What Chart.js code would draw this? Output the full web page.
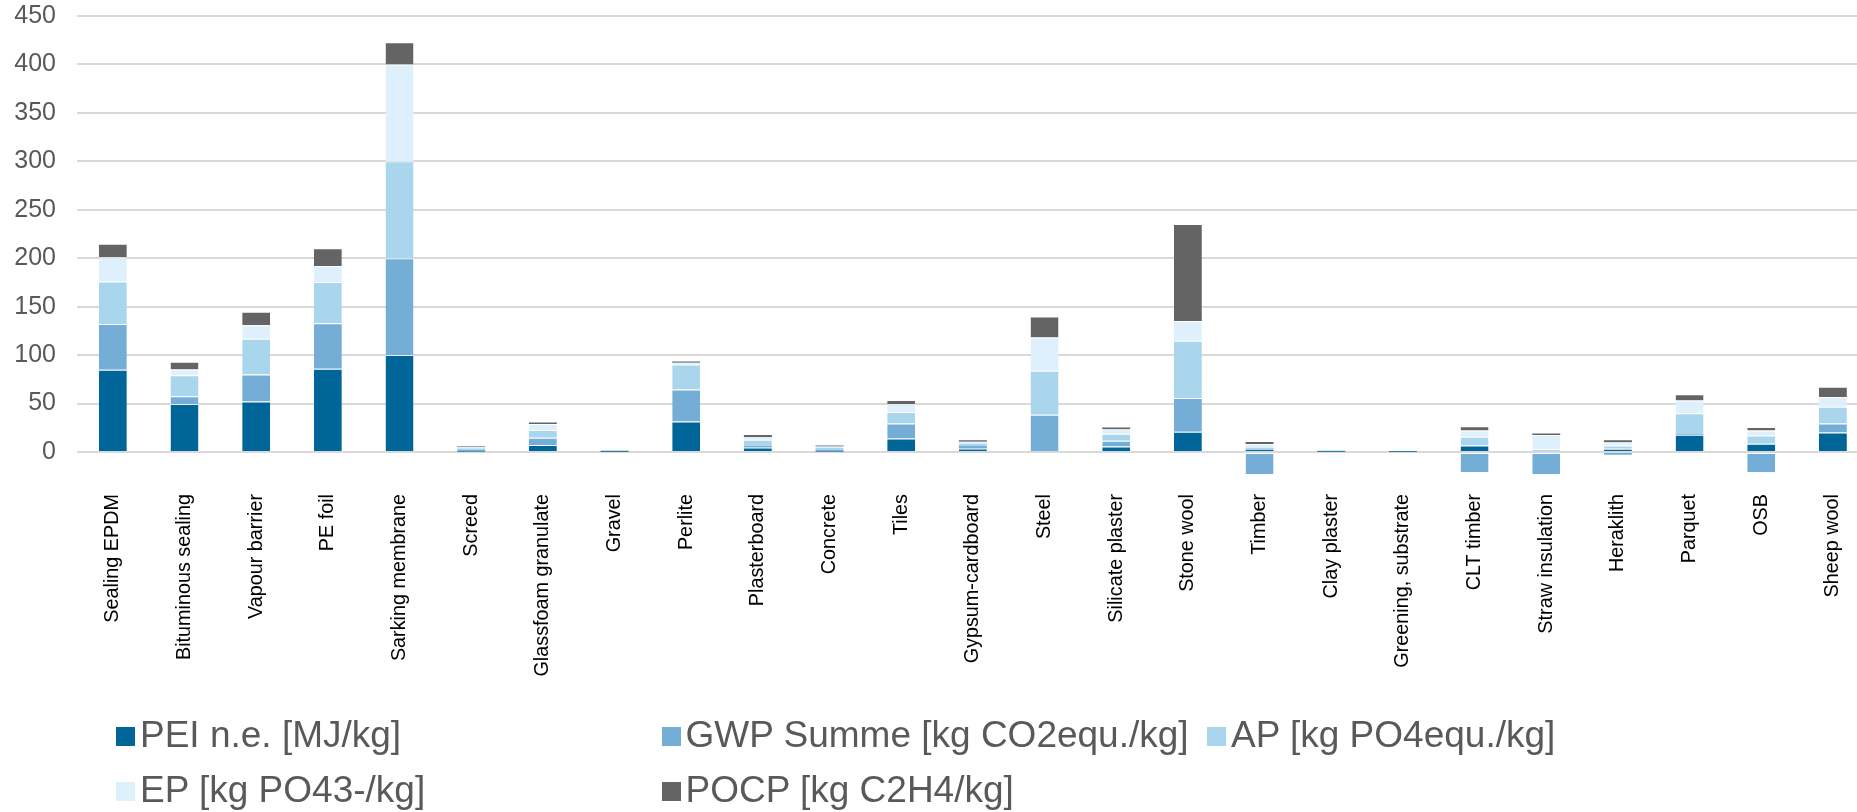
<!DOCTYPE html>
<html>
<head>
<meta charset="utf-8">
<script src="https://cdn.jsdelivr.net/npm/chart.js@4/dist/chart.umd.min.js"></script>
<style>
  html, body { margin: 0; padding: 0; background: #fff; overflow: hidden; width: 1857px; height: 812px; }
  #wrap { position: absolute; left: 0; top: 0; width: 1880px; height: 812px; }
  #legend {
    position: absolute; left: 116px; top: 716px;
    display: grid; grid-template-columns: 545.5px 545.5px 545.5px; grid-auto-rows: 55px;
    font-family: 'Liberation Sans', Arial, sans-serif; font-size: 37px; line-height: 37px; color: #595959;
  }
  .item { display: flex; align-items: flex-start; white-space: nowrap; }
  .swatch { width: 19px; height: 19px; margin-top: 11px; margin-right: 5px; flex: none; }
</style>
</head>
<body>
<div id="wrap"><canvas id="c" width="1880" height="812"></canvas></div>
<div id="legend"></div>
<script>
// Building materials
const categories = [
  'Sealing EPDM', 'Bituminous sealing', 'Vapour barrier', 'PE foil', 'Sarking membrane',
  'Screed', 'Glassfoam granulate', 'Gravel', 'Perlite', 'Plasterboard', 'Concrete', 'Tiles',
  'Gypsum-cardboard', 'Steel', 'Silicate plaster', 'Stone wool', 'Timber', 'Clay plaster',
  'Greening, substrate', 'CLT timber', 'Straw insulation', 'Heraklith', 'Parquet', 'OSB', 'Sheep wool'
];

// Indicator values per material (stacked)
const pei  = [85, 49.5, 52, 86, 100, 0.5, 7.2, 0.3, 31.5, 4.6, 0.5, 14, 3.5, 0, 5.6, 20.8, 2, 0.2, 0.2, 6.8, 0, 3.3, 17.7, 8.4, 20.1];
const gwp  = [47, 8, 28, 47, 100, 1.5, 7.6, 0.3, 33, 1.8, 1.7, 15.4, 2.7, 38.5, 6, 35, -23, 0.3, 0.2, -20.6, -23, -2.8, 1, -20.8, 9.2];
const ap   = [44, 21.7, 37, 42.5, 100, 1.5, 7.9, 0.2, 25.8, 6.3, 2, 11.8, 2.1, 45.4, 7.2, 58.9, 2.4, 0.5, 0.2, 9, 3.2, 3.5, 21.3, 8.6, 17.5];
const ep   = [25, 6, 13.7, 16.5, 100, 2, 6.3, 0.1, 1.7, 2.8, 1.4, 8.3, 2.3, 34.4, 4.6, 20.6, 3.8, 0.7, 0.2, 6.3, 14.4, 3.2, 13.2, 5.1, 10.1];
const pocp = [14, 8, 14, 18.2, 23, 0.7, 1.5, 0.3, 1.4, 2, 1, 4.1, 1.5, 21.6, 1.9, 100, 2.1, 0.3, 0.3, 4.5, 1.4, 2.1, 6.3, 3.8, 10.5];

const seriesNames = [
  'PEI n.e. [MJ/kg]',
  'GWP Summe [kg CO2equ./kg]',
  'AP [kg PO4equ./kg]',
  'EP [kg PO43-/kg]',
  'POCP [kg C2H4/kg]'
];
const seriesValues = [pei, gwp, ap, ep, pocp];
const seriesColors = ['#006699', '#74ADD6', '#A9D6EC', '#DEF0FB', '#646464'];

// Value axis tick labels
const yTicks = [0, 50, 100, 150, 200, 250, 300, 350, 400, 450];

const fontFamily = "'Liberation Sans', Arial, sans-serif";

// thin light seam between stacked segments, only where a segment is tall enough
const seamWidth = (ctx) => (Math.abs(ctx.raw) >= 3 ? { top: 1, bottom: 0, left: 0, right: 0 } : 0);

const chart = new Chart(document.getElementById('c'), {
  type: 'bar',
  data: {
    labels: categories,
    datasets: seriesNames.map((name, i) => ({
      label: name,
      data: seriesValues[i],
      backgroundColor: seriesColors[i],
      borderColor: 'rgba(255,255,255,0.45)',
      borderWidth: seamWidth,
      borderSkipped: false,
      clip: 0,
      categoryPercentage: 1,
      barPercentage: 0.39
    }))
  },
  options: {
    responsive: false,
    animation: false,
    devicePixelRatio: 1,
    layout: { padding: { left: 0, right: 11.25, top: 16, bottom: 123 } },
    plugins: { legend: { display: false }, tooltip: { enabled: false } },
    scales: {
      x: {
        stacked: true,
        grid: { display: false, drawTicks: false },
        border: { display: false },
        ticks: {
          autoSkip: false, minRotation: 90, maxRotation: 90, padding: 20,
          color: '#000000', font: { family: fontFamily, size: 19.8 }
        },
        afterFit: (s) => { s.height = 215; s.paddingLeft = 0; s.paddingRight = 0; }
      },
      y: {
        stacked: true,
        min: -22.7,
        max: 450,
        afterBuildTicks: (s) => { s.ticks = yTicks.map(v => ({ value: v })); },
        grid: { color: '#D9D9D9', lineWidth: 2, drawTicks: false },
        border: { display: false },
        ticks: { padding: 21, color: '#595959', font: { family: fontFamily, size: 25 } },
        afterFit: (s) => { s.width = 77; s.paddingTop = 0; s.paddingBottom = 0; }
      }
    }
  }
});

// Legend laid out in equal-width columns
const legendEl = document.getElementById('legend');
chart.data.datasets.forEach((ds) => {
  const item = document.createElement('div');
  item.className = 'item';
  const sw = document.createElement('span');
  sw.className = 'swatch';
  sw.style.background = ds.backgroundColor;
  const txt = document.createElement('span');
  txt.textContent = ds.label;
  item.appendChild(sw);
  item.appendChild(txt);
  legendEl.appendChild(item);
});
</script>
</body>
</html>
